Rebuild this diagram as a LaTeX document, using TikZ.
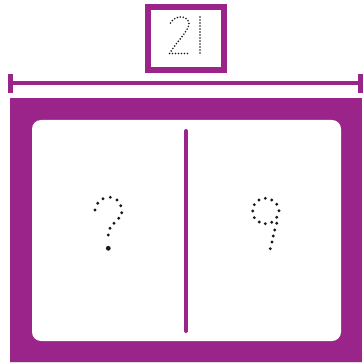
\documentclass[tikz,border=0pt]{standalone}
\definecolor{frame}{RGB}{155,36,138}
\definecolor{ink}{RGB}{25,25,25}
\tikzset{
  dotline/.style={draw=ink,line width=1.8pt,line cap=round,dash pattern=on 0pt off 3pt},
  bigdot/.style={fill=ink},
}
\begin{document}
\begin{tikzpicture}[x=1pt,y=-1pt]
\useasboundingbox (0,0) rectangle (362,363);
% top label box
\draw[frame,line width=6pt] (148,7) rectangle (224,70);
% "2" and "1" dotted
\draw[dotline] (170.5,23) .. controls (174,16) and (187,14) .. (189,23) .. controls (189,31) and (177,41) .. (169.5,53.5) -- (189.5,53.5);
\draw[dotline] (200,17) -- (200,54);
% dimension line
\draw[frame,line width=4pt] (9,83) -- (361,83);
\fill[frame] (7.5,74) rectangle (12.5,93);
\fill[frame] (357.5,74) rectangle (362.5,93);
% big frame
\fill[gray!25] (10,361) rectangle (362,363);
\fill[frame] (10,98) rectangle (362,362);
\fill[white,rounded corners=9pt] (32,120) rectangle (341,341);
\draw[frame,line width=4pt,line cap=round] (186,131) -- (186,331);
% question mark dots
\foreach \p in {(95,210),(97.7,203.3),(103,198.7),(110.3,197.3),(117,200),(120.7,205.7),(121.7,212.7),(118.7,218.3),(114,223.3),(110,228.3),(108.3,235)}
  \fill[bigdot] \p circle (1.6pt);
\fill[bigdot] (108.3,248.3) circle (2.4pt);
% nine dots
\foreach \p in {(259,200),(265.3,198.3),(271.7,200),(276.7,204.3),(279,210.7),(276.7,217.3),(271.7,222.3),(265.3,223.7),(259.3,222),(254.3,217.7),(252.7,211),(254.3,204.7),(276.7,223.3),(274.7,230),(273.3,236),(272,242),(270.3,248.7)}
  \fill[bigdot] \p circle (1.6pt);
\end{tikzpicture}
\end{document}
